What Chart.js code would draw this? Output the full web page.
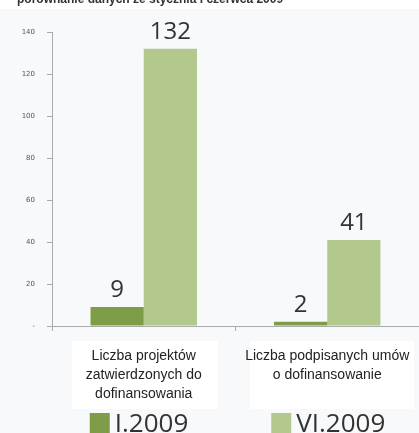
<!DOCTYPE html>
<html>
<head>
<meta charset="utf-8">
<script src="https://cdn.jsdelivr.net/npm/chart.js@4"></script>
<style>
  html, body { margin: 0; padding: 0; background: #f8f9fb; }
  #wrap { width: 419px; height: 433px; position: relative; }
</style>
</head>
<body>
<div id="wrap"><canvas id="chart" width="419" height="433"></canvas></div>
<script>
const title = 'porównanie danych ze stycznia i czerwca 2009';
const categories = [
  ['Liczba projektów', 'zatwierdzonych do', 'dofinansowania'],
  ['Liczba podpisanych umów', 'o dofinansowanie']
];
const seriesNames = ['I.2009', 'VI.2009'];
const jan = [9, 2];
const jun = [132, 41];
const yTicks = [0, 20, 40, 60, 80, 100, 120, 140];
const colors = ['#7f9d48', '#b2c88c'];

// title (cut at the top of the picture), white label boxes, values, legend
const extras = {
  id: 'extras',
  beforeDraw(chart) {
    const ctx = chart.ctx;
    ctx.save();
    ctx.fillStyle = '#ffffff';
    ctx.fillRect(0, 0, 419, 9);
    ctx.fillRect(72, 341, 146, 68);
    ctx.fillRect(250, 341, 164, 68);
    ctx.fillStyle = '#333';
    ctx.font = 'bold 12px "Liberation Sans", Arial';
    ctx.textBaseline = 'alphabetic';
    ctx.fillText(title, 17, 3);
    ctx.restore();
  },
  afterDatasetsDraw(chart) {
    const ctx = chart.ctx;
    ctx.save();
    ctx.fillStyle = '#333';
    ctx.font = '24px "Open Sans", sans-serif';
    ctx.textAlign = 'center';
    ctx.textBaseline = 'bottom';
    chart.data.datasets.forEach((ds, i) => {
      chart.getDatasetMeta(i).data.forEach((bar, j) => {
        ctx.fillText(String(ds.data[j]), bar.x, bar.y - 5);
      });
    });
    // legend under each category
    const xs = chart.scales.x;
    ctx.font = '26px "Open Sans", sans-serif';
    ctx.textAlign = 'left';
    ctx.textBaseline = 'alphabetic';
    chart.data.datasets.forEach((ds, i) => {
      const cx = xs.getPixelForValue(i);
      const x0 = cx - (i === 0 ? 54 : 56);
      ctx.fillStyle = ds.backgroundColor;
      ctx.fillRect(x0, 413, 20, 20);
      ctx.fillStyle = '#333';
      ctx.fillText(ds.label, x0 + 25, 432);
    });
    ctx.restore();
  }
};

new Chart(document.getElementById('chart'), {
  type: 'bar',
  data: {
    labels: categories,
    datasets: [
      { label: seriesNames[0], data: jan, backgroundColor: colors[0] },
      { label: seriesNames[1], data: jun, backgroundColor: colors[1] }
    ]
  },
  options: {
    responsive: false,
    animation: false,
    layout: { padding: { top: 32, left: 0, right: 0, bottom: 0 } },
    datasets: { bar: { categoryPercentage: 0.58, barPercentage: 1.0 } },
    plugins: { legend: { display: false }, tooltip: { enabled: false } },
    scales: {
      x: {
        grid: { drawOnChartArea: false, tickLength: 5, color: '#aaa' },
        border: { color: '#aaa' },
        ticks: {
          color: '#222',
          padding: 15,
          font: { family: '"Liberation Sans Narrow", "Liberation Sans", sans-serif', size: 14, lineHeight: 1.38 },
          maxRotation: 0
        },
        afterFit(s) { s.height = 107; s.paddingLeft = 0; s.paddingRight = 0; }
      },
      y: {
        min: 0,
        max: 140,
        afterBuildTicks(s) { s.ticks = yTicks.map(v => ({ value: v })); },
        grid: { drawOnChartArea: false, tickLength: 5, color: '#aaa' },
        border: { color: '#aaa' },
        ticks: {
          color: '#555',
          padding: 12,
          font: { family: 'DejaVu Sans', size: 7 },
          callback: v => (v === 0 ? '-' : v)
        },
        afterFit(s) { s.width = 52; }
      }
    }
  },
  plugins: [extras]
});
</script>
</body>
</html>
